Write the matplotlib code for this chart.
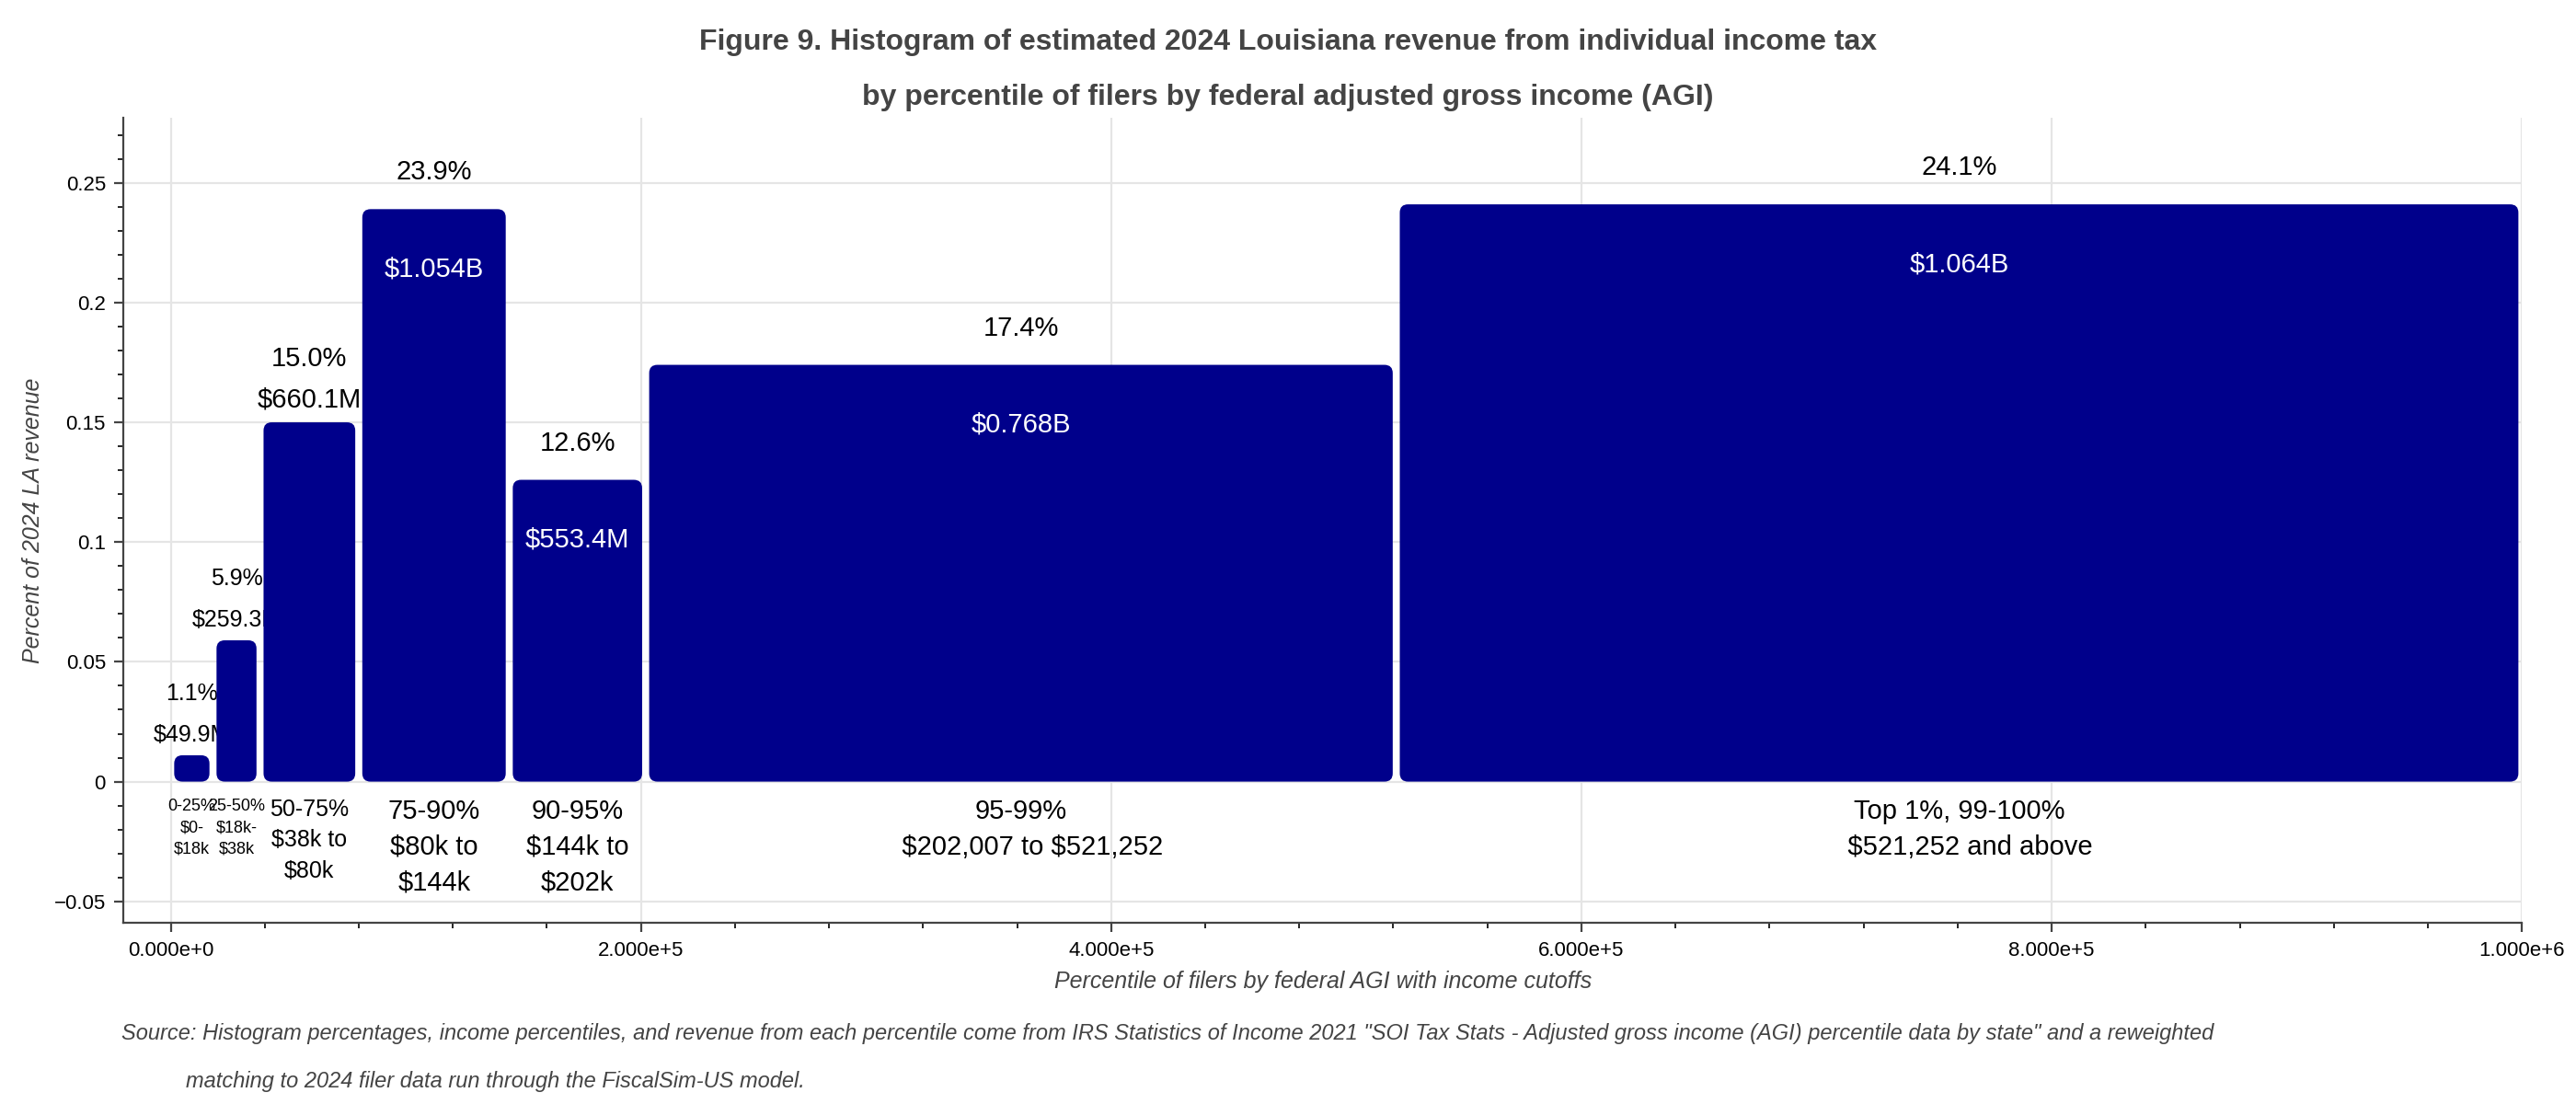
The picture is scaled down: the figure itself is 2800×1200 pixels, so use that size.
import matplotlib
matplotlib.use("Agg")
import matplotlib.pyplot as plt
from matplotlib.patches import FancyBboxPatch
from matplotlib.ticker import FuncFormatter, AutoMinorLocator, MultipleLocator

plt.rcParams["font.family"] = ["Liberation Sans", "DejaVu Sans"]
plt.rcParams["text.parse_math"] = False

# income cutoffs (bar edges) and shares
left_edges = [0, 18000, 38000, 80000, 144000, 202007, 521252]
right_edges = [18000, 38000, 80000, 144000, 202007, 521252, 1000000]
shares = [0.011, 0.059, 0.150, 0.239, 0.126, 0.174, 0.241]
pct_labels = ["1.1%", "5.9%", "15.0%", "23.9%", "12.6%", "17.4%", "24.1%"]
rev_labels = ["$49.9M", "$259.3M", "$660.1M", "$1.054B", "$553.4M", "$0.768B", "$1.064B"]
rev_inside = [False, False, False, True, True, True, True]
bin_labels = ["0-25%\n$0-\n$18k", "25-50%\n$18k-\n$38k", "50-75%\n$38k to\n$80k",
              "75-90%\n$80k to\n$144k", "90-95%\n$144k to\n$202k",
              "95-99%\n   $202,007 to $521,252", "Top 1%, 99-100%\n   $521,252 and above"]
bin_fs = [6.5, 6.5, 9, 10.5, 10.5, 10.5, 10.5]

fig = plt.figure(figsize=(14, 6), dpi=200)
ax = fig.add_axes([0.048, 0.164, 0.931, 0.729])
ax.set_xlim(-20000, 1000000)
ax.set_ylim(-0.059, 0.277)

gap = 1500
for i, (l, r, h) in enumerate(zip(left_edges, right_edges, shares)):
    ax.add_patch(FancyBboxPatch((l + gap, 0), r - l - 2 * gap, h,
                                boxstyle="round,pad=0,rounding_size=3500",
                                mutation_aspect=9.8e-7, fc="#00008b", ec="none", zorder=3))
    cx = (l + r) / 2
    fs = 10.5 if i > 1 else 9
    if rev_inside[i]:
        ax.text(cx, h + 0.01, pct_labels[i], ha="center", va="bottom", fontsize=10.5)
        ax.text(cx, h - 0.025, rev_labels[i], ha="center", va="center", fontsize=10.5, color="white", zorder=4)
    else:
        ax.text(cx, h + 0.021, pct_labels[i], ha="center", va="bottom", fontsize=fs)
        ax.text(cx, h + 0.004, rev_labels[i], ha="center", va="bottom", fontsize=fs)
    ax.text(cx, -0.007, bin_labels[i], ha="center", va="top", fontsize=bin_fs[i], linespacing=1.5)

ax.xaxis.set_major_locator(MultipleLocator(200000))
ax.xaxis.set_minor_locator(AutoMinorLocator(5))
ax.yaxis.set_major_locator(MultipleLocator(0.05))
ax.yaxis.set_minor_locator(AutoMinorLocator(5))


def sci(v, pos):
    if v == 0:
        return "0.000e+0"
    e = len(str(int(abs(v)))) - 1
    return f"{v / 10 ** e:.3f}e+{e}"


def yfmt(v, pos):
    v = round(v, 3)
    if v == 0:
        return "0"
    return f"{v:g}".replace("-", "\u2212")


ax.xaxis.set_major_formatter(FuncFormatter(sci))
ax.yaxis.set_major_formatter(FuncFormatter(yfmt))
ax.tick_params(labelsize=8, color="#444444")
ax.grid(True, color="#e5e5e5", lw=0.8, zorder=0)
for s in ["top", "right"]:
    ax.spines[s].set_visible(False)
for s in ["left", "bottom"]:
    ax.spines[s].set_color("#444444")

ax.set_xlabel("Percentile of filers by federal AGI with income cutoffs", fontsize=9, style="italic", color="#444444")
ax.set_ylabel("Percent of 2024 LA revenue", fontsize=9, style="italic", color="#444444", labelpad=4)
fig.text(0.5, 0.955, "Figure 9. Histogram of estimated 2024 Louisiana revenue from individual income tax",
         ha="center", fontsize=11.5, fontweight="bold", color="#444444")
fig.text(0.5, 0.905, "by percentile of filers by federal adjusted gross income (AGI)",
         ha="center", fontsize=11.5, fontweight="bold", color="#444444")
fig.text(0.047, 0.058, 'Source: Histogram percentages, income percentiles, and revenue from each percentile come from IRS Statistics of Income 2021 "SOI Tax Stats - Adjusted gross income (AGI) percentile data by state" and a reweighted',
         fontsize=8.5, style="italic", color="#444444")
fig.text(0.072, 0.015, "matching to 2024 filer data run through the FiscalSim-US model.",
         fontsize=8.5, style="italic", color="#444444")

fig.savefig("out.png")
